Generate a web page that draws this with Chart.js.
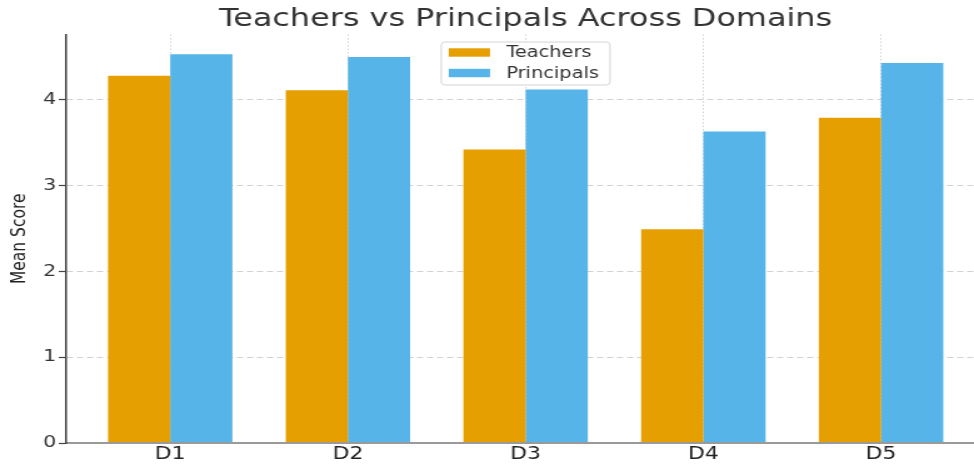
<!DOCTYPE html>
<html>
<head>
<meta charset="utf-8">
<script src="https://cdn.jsdelivr.net/npm/chart.js@4/dist/chart.umd.min.js"></script>
<style>
html,body{margin:0;padding:0;background:#fff;overflow:hidden}
#c{display:block}
</style>
</head>
<body>
<canvas id="c" width="779" height="465" style="width:974px;height:465px"></canvas>
<script>
const categories = ['D1', 'D2', 'D3', 'D4', 'D5'];
const seriesNames = ['Teachers', 'Principals'];
const teachers = [4.28, 4.11, 3.42, 2.49, 3.79];
const principals = [4.53, 4.50, 4.12, 3.63, 4.43];
const yTicks = [0, 1, 2, 3, 4];
const yMax = 4.76;
const xMin = -0.585, xMax = 4.523;
const xCenterValue = 2;

const FONT = '"DejaVu Sans", "Liberation Sans", sans-serif';
Chart.defaults.font.family = FONT;

const centerTitle = {
  id: 'centerTitle',
  afterLayout(chart) {
    const tb = chart.titleBlock;
    if (!tb) return;
    const c = chart.scales.x.getPixelForValue(xCenterValue);
    const w = tb.right - tb.left;
    tb.left = c - w / 2;
    tb.right = c + w / 2;
  }
};

const boxLegend = {
  id: 'boxLegend',
  afterDraw(chart) {
    const ctx = chart.ctx;
    const cx = chart.scales.x.getPixelForValue(xCenterValue);
    const w = 135, h = 43, top = 42;
    const left = cx - w / 2;
    ctx.save();
    ctx.fillStyle = 'rgba(255,255,255,0.85)';
    ctx.strokeStyle = '#d4d4d4';
    ctx.lineWidth = 1;
    ctx.beginPath();
    ctx.roundRect(left, top, w, h, 3);
    ctx.fill();
    ctx.stroke();
    ctx.font = '15.5px ' + FONT;
    ctx.textBaseline = 'middle';
    chart.data.datasets.forEach((ds, i) => {
      const y = top + 10.5 + i * 20.5;
      ctx.fillStyle = ds.backgroundColor;
      ctx.fillRect(left + 6, y - 4.2, 33, 8.4);
      ctx.fillStyle = '#333';
      ctx.fillText(ds.label, left + 52, y + 0.5);
    });
    ctx.restore();
  }
};

new Chart(document.getElementById('c'), {
  type: 'bar',
  data: {
    datasets: [
      {
        label: seriesNames[0],
        data: teachers.map((v, i) => ({ x: i, y: v })),
        backgroundColor: '#E69F00',
        borderWidth: 0,
        categoryPercentage: 0.7,
        barPercentage: 1.0
      },
      {
        label: seriesNames[1],
        data: principals.map((v, i) => ({ x: i, y: v })),
        backgroundColor: '#56B4E9',
        borderWidth: 0,
        categoryPercentage: 0.7,
        barPercentage: 1.0
      }
    ]
  },
  options: {
    responsive: false,
    animation: false,
    devicePixelRatio: 1,
    layout: { padding: 0 },
    plugins: {
      legend: { display: false },
      tooltip: { enabled: false },
      title: {
        display: true,
        text: 'Teachers vs Principals Across Domains',
        fullSize: false,
        color: '#333',
        font: { size: 25.5, weight: 'normal' },
        padding: { top: 4, bottom: 0 }
      }
    },
    scales: {
      x: {
        type: 'linear',
        min: xMin,
        max: xMax,
        offset: false,
        afterBuildTicks: s => { s.ticks = categories.map((_, i) => ({ value: i })); },
        afterFit: s => { s.height = 22; },
        ticks: {
          autoSkip: false,
          maxRotation: 0,
          callback: v => categories[v],
          color: '#222',
          font: { size: 17.5 },
          padding: 1
        },
        grid: { offset: false, color: '#d2d2d2', drawTicks: false },
        border: { display: true, color: '#9a9a9a', width: 2, dash: [1.5, 2], z: 1 }
      },
      y: {
        min: 0,
        max: yMax,
        afterBuildTicks: s => { s.ticks = yTicks.map(v => ({ value: v })); },
        afterFit: s => { s.width = 53; },
        ticks: { color: '#333', font: { size: 16.5 }, padding: 2 },
        grid: { color: '#d2d2d2', tickColor: '#444', tickLength: 6, tickWidth: 1.2 },
        border: { display: true, color: '#444', width: 1.5, dash: [5, 3], z: 1 },
        title: {
          display: true,
          text: 'Mean Score',
          color: '#222',
          font: { size: 15.5 },
          padding: { top: 7, bottom: 0 }
        }
      }
    }
  },
  plugins: [centerTitle, boxLegend]
});
</script>
</body>
</html>
